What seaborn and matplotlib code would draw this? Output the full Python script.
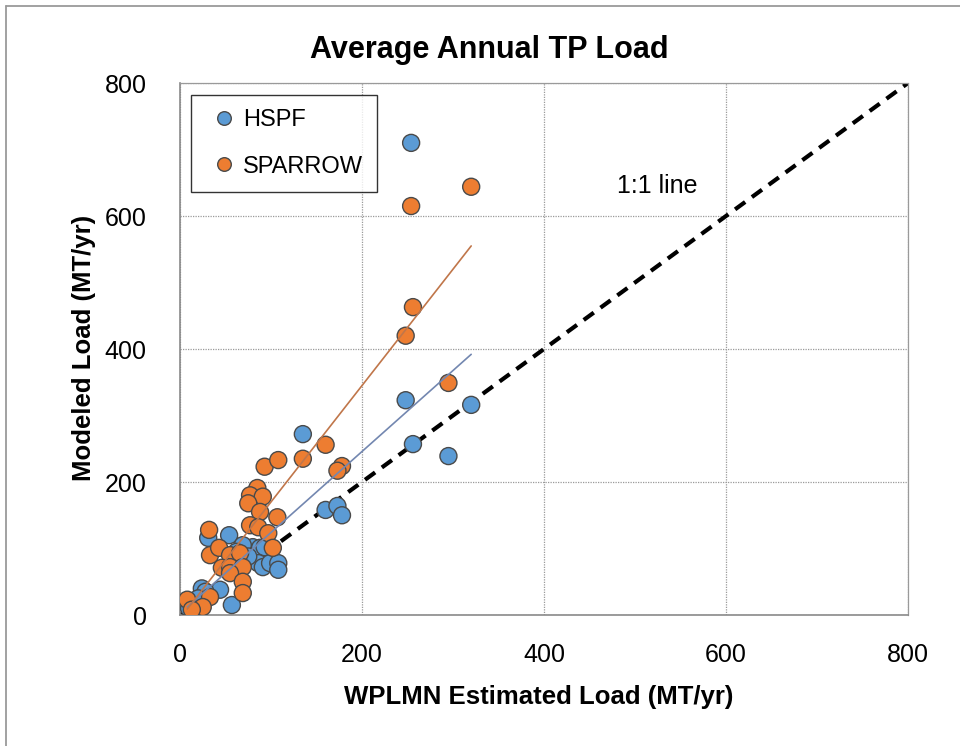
import matplotlib
matplotlib.use("Agg")
import matplotlib.pyplot as plt
import seaborn as sns
import pandas as pd
from matplotlib.lines import Line2D

# values (MT/yr)
hspf_x = [254, 248, 256, 295, 320, 135, 160, 173, 178, 54, 31, 80, 88, 93,
          86, 91, 99, 108, 108, 69, 24, 44, 57, 69, 28, 10, 20, 75, 62]
hspf_y = [710, 323, 257, 239, 316, 272, 158, 164, 150, 120, 116, 102, 101, 102,
          78, 72, 78, 78, 68, 78, 40, 38, 15, 105, 35, 10, 25, 88, 95]
sparrow_x = [254, 320, 256, 248, 295, 160, 178, 173, 93, 108, 135, 85, 77, 91,
             75, 88, 107, 77, 86, 97, 32, 33, 43, 55, 66, 46, 55, 69, 55, 102,
             69, 69, 8, 33, 25, 13]
sparrow_y = [615, 644, 463, 420, 349, 256, 224, 217, 223, 233, 235, 191, 180, 178,
             168, 155, 147, 135, 132, 123, 128, 90, 101, 90, 93, 71, 72, 72, 63, 101,
             50, 33, 23, 27, 12, 8]

# trend lines as drawn in the picture (end points)
hspf_fit_x = [8, 320]
hspf_fit_y = [12, 392]
sparrow_fit_x = [8, 320]
sparrow_fit_y = [9, 555]
one_to_one = [0, 800]

ticks = [0, 200, 400, 600, 800]

df = pd.DataFrame({
    "x": hspf_x + sparrow_x,
    "y": hspf_y + sparrow_y,
    "model": ["HSPF"] * len(hspf_x) + ["SPARROW"] * len(sparrow_x),
})

sns.set_style("white")
plt.rcParams["font.family"] = ["Liberation Sans", "DejaVu Sans"]
plt.rcParams["text.color"] = "black"
plt.rcParams["xtick.color"] = "black"
plt.rcParams["ytick.color"] = "black"

fig = plt.figure(figsize=(9.6, 7.46), dpi=100)
# frame of the chart area (only top and left edges are inside the picture)
fig.add_artist(Line2D([0.0065, 1.0], [0.992, 0.992], color="#9a9a9a", linewidth=1.3,
                      transform=fig.transFigure))
fig.add_artist(Line2D([0.0065, 0.0065], [0.0, 0.992], color="#9a9a9a", linewidth=1.3,
                      transform=fig.transFigure))

ax = fig.add_axes([0.1875, 0.1756, 0.7583, 0.7131])

ax.plot(one_to_one, one_to_one, color="black", linestyle=(0, (3, 2)), linewidth=3, zorder=2)
ax.plot(hspf_fit_x, hspf_fit_y, color="#7387b0", linewidth=1.2, zorder=4)
ax.plot(sparrow_fit_x, sparrow_fit_y, color="#c0764a", linewidth=1.2, zorder=4)

sns.scatterplot(data=df, x="x", y="y", hue="model",
                palette={"HSPF": "#5B9BD5", "SPARROW": "#ED7D31"},
                s=150, edgecolor="#4a4a4a", linewidth=1, ax=ax, zorder=3)

ax.set_xlim(0, 800)
ax.set_ylim(0, 800)
ax.set_xticks(ticks)
ax.set_yticks(ticks)
ax.tick_params(axis="x", labelsize=18, length=0, pad=20, labelcolor="black")
ax.tick_params(axis="y", labelsize=18, length=0, pad=24, labelcolor="black")
ax.grid(True, color="#9a9a9a", linestyle=(0, (1, 1)), linewidth=0.9)
for side in ["left", "bottom"]:
    ax.spines[side].set_color("#8a8a8a")
    ax.spines[side].set_linewidth(1.2)
for side in ["top", "right"]:
    ax.spines[side].set_color("#9a9a9a")
    ax.spines[side].set_linestyle((0, (1, 1)))
    ax.spines[side].set_linewidth(0.9)

ax.set_xlabel("")
ax.set_ylabel("")
fig.text(0.5615, 1 - 697 / 746, "WPLMN Estimated Load (MT/yr)", fontsize=18.5,
         fontweight="bold", ha="center", va="center", color="black")
fig.text(84 / 960, 1 - 348 / 746, "Modeled Load (MT/yr)", fontsize=18.5,
         fontweight="bold", ha="center", va="center", rotation=90, color="black")
fig.text(489 / 960, 1 - 50 / 746, "Average Annual TP Load", fontsize=22,
         fontweight="bold", ha="center", va="center", color="black")

ax.text(525, 645, "1:1 line", fontsize=18, ha="center", va="center", color="black")

leg = ax.legend(loc="upper left", bbox_to_anchor=(0.015, 0.978), borderaxespad=0,
                fontsize=17, frameon=True, fancybox=False, handletextpad=0.0,
                handlelength=1.6, borderpad=0.6, labelspacing=1.05, markerscale=0.8)
leg.get_frame().set_edgecolor("black")
leg.get_frame().set_linewidth(1)
for t in leg.get_texts():
    t.set_color("black")

fig.savefig("out.png", dpi=100)
